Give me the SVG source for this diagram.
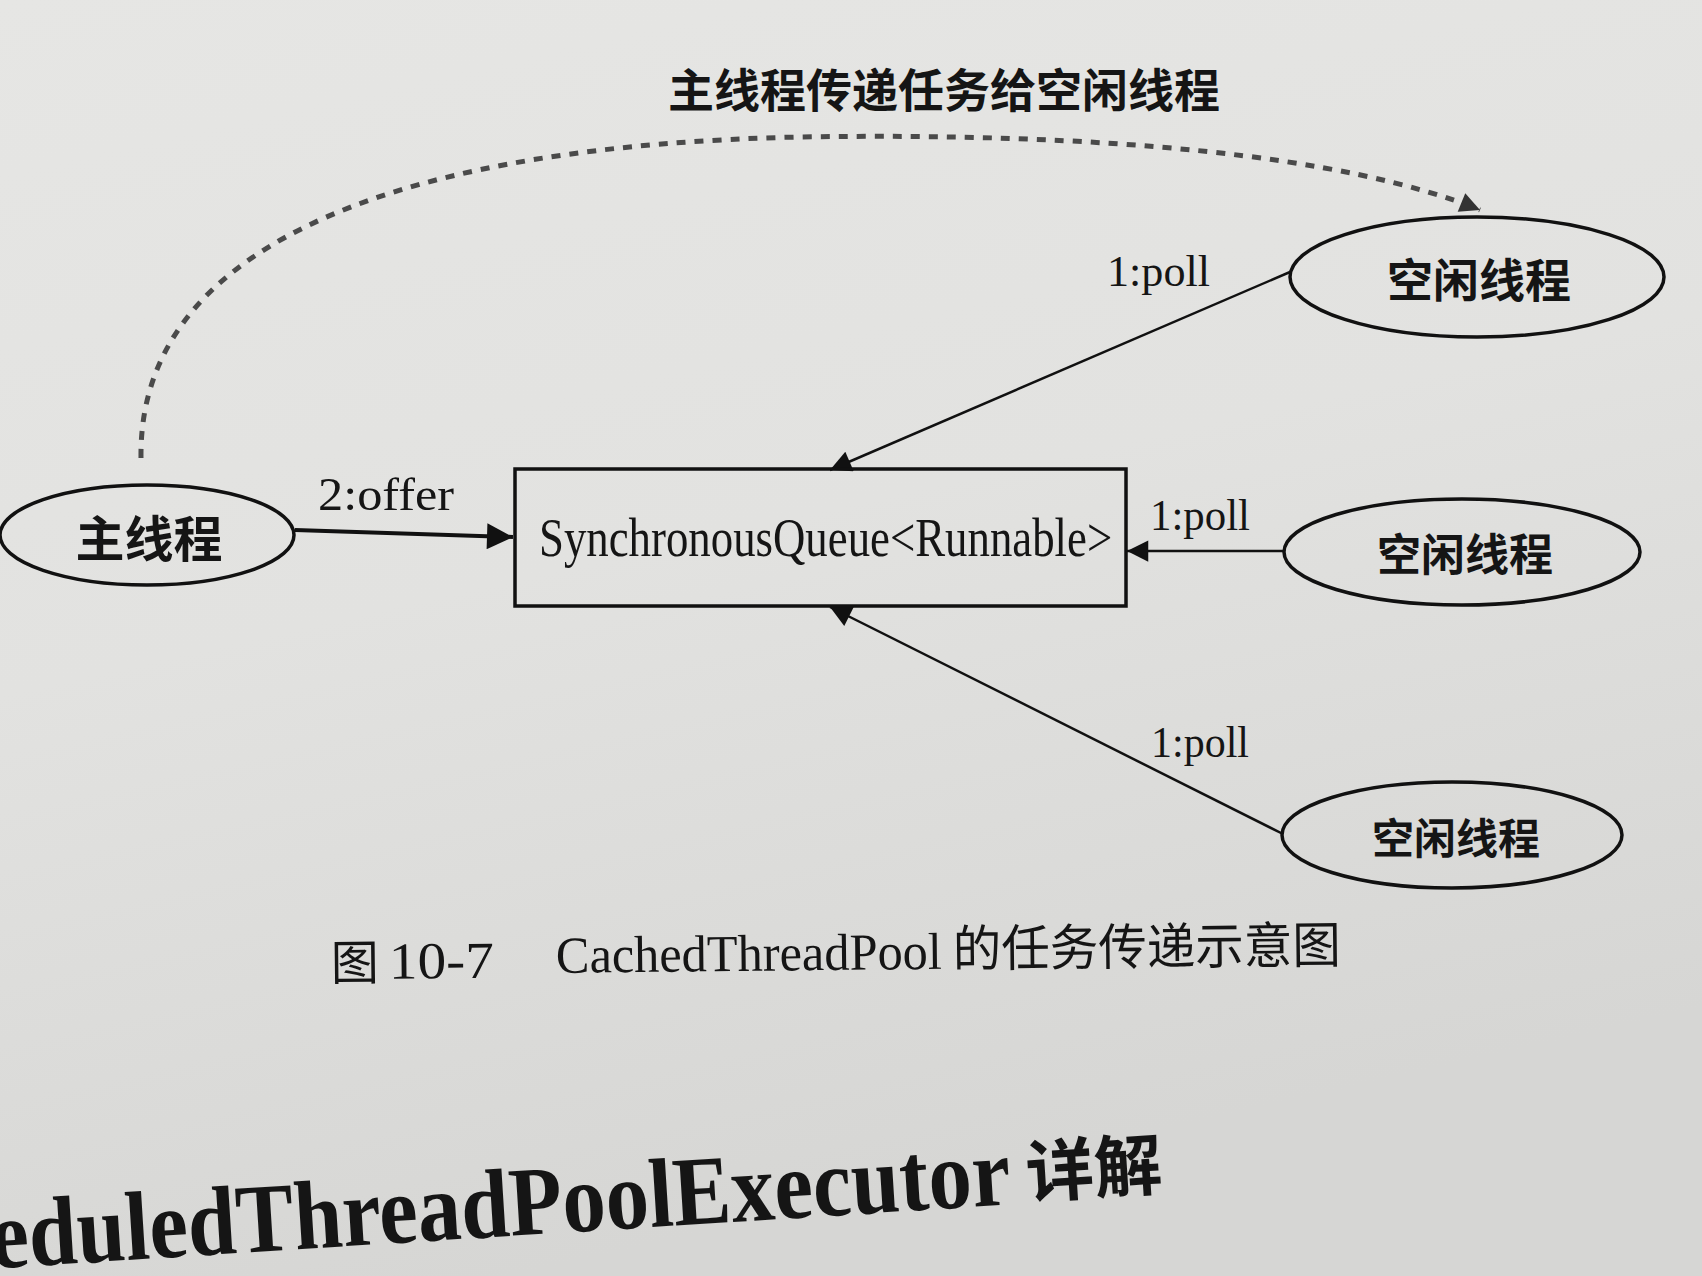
<svg xmlns="http://www.w3.org/2000/svg" width="1702" height="1276" viewBox="0 0 1702 1276">
<defs>
<linearGradient id="bg" x1="0" y1="0" x2="0.3" y2="1">
<stop offset="0" stop-color="#e6e6e4"/>
<stop offset="0.5" stop-color="#e2e2e0"/>
<stop offset="1" stop-color="#d6d6d4"/>
</linearGradient>
<marker id="arr" viewBox="0 0 10 10" refX="10" refY="5" markerWidth="10.5" markerHeight="8.5" markerUnits="strokeWidth" orient="auto">
<path d="M0,0 L10,5 L0,10 z" fill="#111"/>
</marker>
<marker id="arrT" viewBox="0 0 10 10" refX="10" refY="5" markerWidth="8" markerHeight="6.5" markerUnits="strokeWidth" orient="auto">
<path d="M0,0 L10,5 L0,10 z" fill="#111"/>
</marker>
<marker id="arrD" viewBox="0 0 10 10" refX="10" refY="5" markerWidth="5" markerHeight="4" markerUnits="strokeWidth" orient="auto">
<path d="M0,0 L10,5 L0,10 z" fill="#333"/>
</marker>
</defs>
<style>
.node{fill:none;stroke:#111;stroke-width:3.5}
.cjk{font-family:"Noto Sans CJK SC","Noto Sans",sans-serif;font-weight:700;fill:#151515}
.serif{font-family:"Liberation Serif","Times New Roman",serif;fill:#151515}
.edge{fill:none;stroke:#111;stroke-width:2.5}
.edgeT{fill:none;stroke:#111;stroke-width:4}
.dash{fill:none;stroke:#4a4a4a;stroke-width:5;stroke-dasharray:9 9}
</style>
<rect x="0" y="0" width="1702" height="1276" fill="url(#bg)"/>

<text class="cjk" x="944" y="107" font-size="46" text-anchor="middle">主线程传递任务给空闲线程</text>

<g id="connectors">
<path class="dash" d="M141,458 C138,235 420,145 800,137 C1100,132 1345,155 1480,210" marker-end="url(#arrD)"/>
<line class="edgeT" x1="295" y1="530" x2="513" y2="537" marker-end="url(#arrT)"/>
<line class="edge" x1="1290" y1="272" x2="830" y2="470" marker-end="url(#arr)"/>
<line class="edge" x1="1284" y1="551" x2="1127" y2="551" marker-end="url(#arr)"/>
<line class="edge" x1="1283" y1="834" x2="830" y2="607" marker-end="url(#arr)"/>
<text class="serif" x="318" y="510" font-size="46" textLength="136" lengthAdjust="spacingAndGlyphs">2:offer</text>
<text class="serif" x="1107" y="286" font-size="44" textLength="103" lengthAdjust="spacingAndGlyphs">1:poll</text>
<text class="serif" x="1150" y="530" font-size="44" textLength="100" lengthAdjust="spacingAndGlyphs">1:poll</text>
<text class="serif" x="1151" y="757" font-size="44" textLength="98" lengthAdjust="spacingAndGlyphs">1:poll</text>
</g>

<g id="main-thread">
<ellipse class="node" cx="147" cy="535" rx="147" ry="50"/>
<text class="cjk" x="149" y="535" font-size="49" text-anchor="middle" dominant-baseline="central">主线程</text>
</g>

<g id="queue">
<rect class="node" x="515" y="469" width="611" height="137"/>
<g transform="translate(539 556) scale(0.83 1)">
<text class="serif" x="0" y="0" font-size="54">SynchronousQueue&lt;Runnable&gt;</text>
</g>
</g>

<g id="idle-thread-1">
<ellipse class="node" cx="1477" cy="277" rx="187" ry="60"/>
<text class="cjk" x="1479" y="277" font-size="46" text-anchor="middle" dominant-baseline="central">空闲线程</text>
</g>

<g id="idle-thread-2">
<ellipse class="node" cx="1462" cy="552" rx="178" ry="53"/>
<text class="cjk" x="1465" y="552" font-size="44" text-anchor="middle" dominant-baseline="central">空闲线程</text>
</g>

<g id="idle-thread-3">
<ellipse class="node" cx="1452" cy="835" rx="170" ry="53"/>
<text class="cjk" x="1456" y="835" font-size="42" text-anchor="middle" dominant-baseline="central">空闲线程</text>
</g>

<g id="caption" transform="rotate(-0.6 836 968)">
<text class="cjk" x="331" y="975" font-size="48" style="font-weight:400">图</text>
<text class="serif" x="389" y="974" font-size="52" textLength="105" lengthAdjust="spacingAndGlyphs">10-7</text>
<text class="serif" x="556" y="970" font-size="52" textLength="386" lengthAdjust="spacingAndGlyphs">CachedThreadPool</text>
<text class="cjk" x="953" y="968" font-size="50" style="font-weight:400" textLength="388" lengthAdjust="spacingAndGlyphs">的任务传递示意图</text>
</g>

<g id="heading" transform="rotate(-3.6 0 1268)">
<text class="serif" x="-8" y="1268" font-size="98" font-weight="700" textLength="1022" lengthAdjust="spacingAndGlyphs">eduledThreadPoolExecutor</text>
<text class="cjk" x="1030" y="1262" font-size="68">详解</text>
</g>
</svg>
